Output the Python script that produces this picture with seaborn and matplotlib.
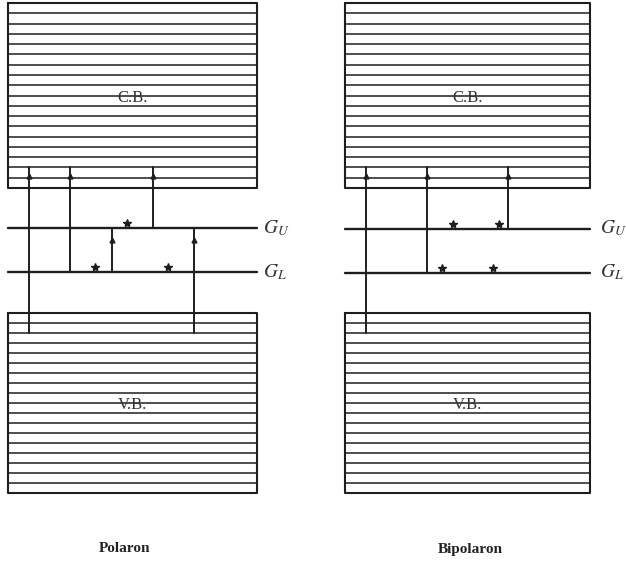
import matplotlib
matplotlib.use("Agg")
import matplotlib.pyplot as plt
import seaborn as sns
import numpy as np

sns.set_style("white")
plt.rcParams["font.family"] = ["Liberation Serif", "DejaVu Serif"]
plt.rcParams["mathtext.fontset"] = "stix"

# ---- data ----
panel_names = ["Polaron", "Bipolaron"]
band_labels = ["C.B.", "V.B."]
level_labels = [r"$G_U$", r"$G_L$"]
n_band_lines = 17
# transitions: (x, y_start, y_end, arrow_y) in diagram units
polaron_trans = [(29, 167, 333, 176), (70, 167, 272, 176), (153, 167, 228, 176),
                 (112, 272, 228, 240), (194, 333, 228, 240)]
bipolaron_trans = [(366, 167, 333, 176), (427, 167, 273, 176), (508, 167, 229, 176)]
polaron_stars = [(127, 223), (95, 267), (168, 267)]
bipolaron_stars = [(453, 224), (499, 224), (442, 268), (493, 268)]

panels = [
    dict(x0=8, x1=257, gu=228, gl=272, trans=polaron_trans, stars=polaron_stars, name=panel_names[0], nx=125),
    dict(x0=345, x1=590, gu=229, gl=273, trans=bipolaron_trans, stars=bipolaron_stars, name=panel_names[1], nx=470),
]
cb_y = (3, 188)
vb_y = (313, 493)

fig = plt.figure(figsize=(6.26, 5.67), dpi=100)
ax = fig.add_axes([0, 0, 1, 1])
ax.set_xlim(0, 626)
ax.set_ylim(567, 0)
ax.axis("off")

col = "#1e1e1e"

def band(ax, x0, x1, y0, y1, label):
    ax.plot([x0, x1, x1, x0, x0], [y0, y0, y1, y1, y0], color=col, lw=1.5)
    ys = np.linspace(y0, y1, n_band_lines + 2)[1:-1]
    for y in ys:
        ax.plot([x0, x1], [y, y], color=col, lw=1.1)
    ax.text((x0 + x1) / 2, (y0 + y1) / 2 + 2, label, ha="center", va="center",
            fontsize=12, color="#333333")

for p in panels:
    band(ax, p["x0"], p["x1"], cb_y[0], cb_y[1], band_labels[0])
    band(ax, p["x0"], p["x1"], vb_y[0], vb_y[1], band_labels[1])
    ax.plot([p["x0"], p["x1"]], [p["gu"], p["gu"]], color=col, lw=1.7)
    ax.plot([p["x0"], p["x1"]], [p["gl"], p["gl"]], color=col, lw=1.7)
    for (x, ys, ye, ay) in p["trans"]:
        ax.plot([x, x], [ys, ye], color=col, lw=1.4)
        ax.plot([x], [ay], marker="^", color=col, markersize=3.5)
    for (sx, sy) in p["stars"]:
        ax.plot([sx], [sy], marker="*", color=col, markersize=6)
    ax.text(p["nx"], 549, p["name"], ha="center", va="center", fontsize=11,
            fontweight="bold", color="#222222")

for lx in (263, 600):
    ax.text(lx, 228, level_labels[0], ha="left", va="center", fontsize=14, color="#333333")
    ax.text(lx, 272, level_labels[1], ha="left", va="center", fontsize=14, color="#333333")

fig.savefig("out.png", dpi=100, facecolor="white")
